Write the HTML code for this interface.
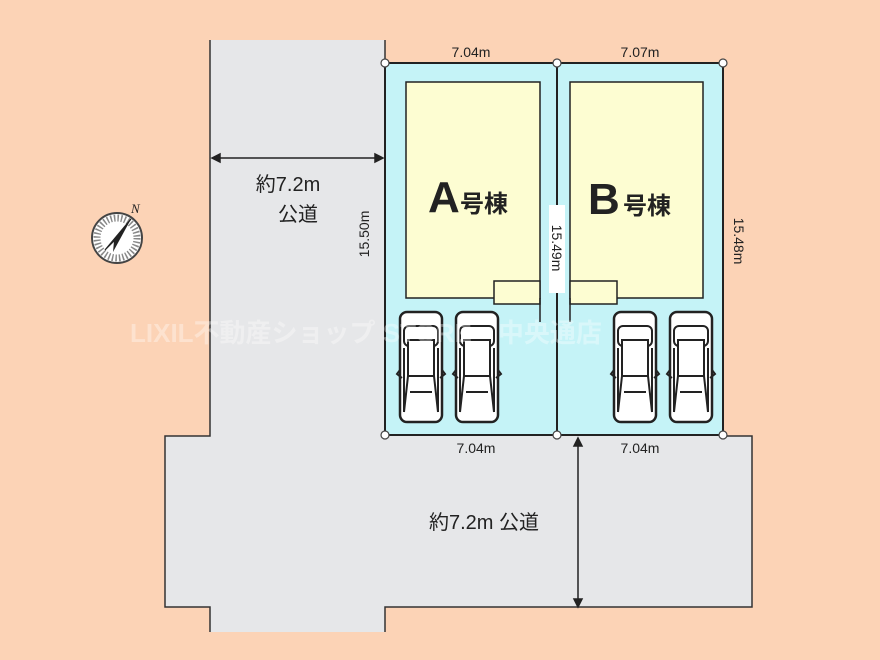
<!DOCTYPE html>
<html><head><meta charset="utf-8"><style>
body{margin:0;width:880px;height:660px;background:#fcd3b6;overflow:hidden;font-family:"Liberation Sans","Noto Sans CJK JP",sans-serif}
svg{position:absolute;left:0;top:0}
</style></head><body>
<svg width="880" height="660" viewBox="0 0 880 660">
<defs>
<g id="car">
<rect x="0" y="0" width="42" height="110" rx="7" fill="#fff" stroke="#222" stroke-width="2.5"/>
<rect x="4" y="14" width="34" height="20" rx="5" fill="#fff" stroke="#222" stroke-width="2"/>
<rect x="8" y="28" width="26" height="36" fill="#fff" stroke="#222" stroke-width="2"/>
<path d="M4 36 L4 100 M38 36 L38 100 M8 64 L4 100 M34 64 L38 100 M10 80 L32 80" stroke="#222" stroke-width="2" fill="none"/>
<path d="M0 58 L-3 62 L2 66 M42 58 L45 62 L40 66" stroke="#222" stroke-width="2" fill="none"/>
</g>
</defs>
<path d="M210 40 L385 40 L385 436 L752 436 L752 607 L385 607 L385 632 L210 632 L210 607 L165 607 L165 436 L210 436 Z" fill="#e6e7e9"/>
<path d="M210 40 L210 436 L165 436 L165 607 L210 607 L210 632 M385 40 L385 63 M385 632 L385 607 L752 607 L752 436 L723 436" stroke="#333" stroke-width="1.5" fill="none"/>
<rect x="385" y="63" width="338" height="372" fill="#c5f3f7" stroke="#222" stroke-width="2"/>
<line x1="557" y1="63" x2="557" y2="435" stroke="#222" stroke-width="2"/>
<rect x="406" y="82" width="134" height="216" fill="#fdfdd2" stroke="#222" stroke-width="1.5"/>
<rect x="570" y="82" width="133" height="216" fill="#fdfdd2" stroke="#222" stroke-width="1.5"/>
<rect x="494" y="281" width="46" height="23" fill="#fdfdd2" stroke="#222" stroke-width="1.5"/>
<rect x="570" y="281" width="47" height="23" fill="#fdfdd2" stroke="#222" stroke-width="1.5"/>
<line x1="540" y1="298" x2="540" y2="322" stroke="#222" stroke-width="1.5"/>
<line x1="570" y1="298" x2="570" y2="322" stroke="#222" stroke-width="1.5"/>
<use href="#car" x="400" y="312"/><use href="#car" x="456" y="312"/>
<use href="#car" x="614" y="312"/><use href="#car" x="670" y="312"/>
<g fill="#fff" stroke="#444" stroke-width="1.2">
<circle cx="385" cy="63" r="4"/><circle cx="557" cy="63" r="4"/><circle cx="723" cy="63" r="4"/>
<circle cx="385" cy="435" r="4"/><circle cx="557" cy="435" r="4"/><circle cx="723" cy="435" r="4"/>
</g>
<g stroke="#222" stroke-width="1.5" fill="#222">
<line x1="214" y1="158" x2="381" y2="158"/>
<path d="M212 158 L220 154 L220 162 Z"/><path d="M383 158 L375 154 L375 162 Z"/>
<line x1="578" y1="440" x2="578" y2="605"/>
<path d="M578 438 L574 446 L582 446 Z"/><path d="M578 607 L574 599 L582 599 Z"/>
</g>
<rect x="549" y="205" width="16" height="88" fill="#fff"/>
<g font-size="14" fill="#222" text-anchor="middle">
<text x="471" y="57">7.04m</text><text x="640" y="57">7.07m</text>
<text x="476" y="453">7.04m</text><text x="640" y="453">7.04m</text>
<text transform="translate(369,234) rotate(-90)">15.50m</text>
<text transform="translate(552,248) rotate(90)">15.49m</text>
<text transform="translate(734,241) rotate(90)">15.48m</text>
</g>
<g font-size="20" fill="#222" text-anchor="middle">
<text x="288" y="191">約7.2m</text><text x="298" y="221">公道</text>
<text x="484" y="529">約7.2m 公道</text>
</g>
<text x="428" y="212" font-size="44" font-weight="bold" fill="#222">A</text>
<text x="460" y="212" font-size="24" font-weight="bold" fill="#222">号棟</text>
<text x="588" y="214" font-size="44" font-weight="bold" fill="#222">B</text>
<text x="623" y="214" font-size="24" font-weight="bold" fill="#222">号棟</text>
<text x="130" y="342" font-size="26" font-weight="bold" fill="#fff" fill-opacity="0.35">LIXIL不動産ショップ STORE　中央通店</text>
<g transform="translate(117,238)">
<circle r="25" fill="#fff" stroke="#444" stroke-width="2"/>
<circle r="20" fill="none" stroke="#888" stroke-width="7" stroke-dasharray="1.5 2"/>
<path d="M14 -19 L-12 12 L-3 3 Z" fill="#fff" stroke="#222" stroke-width="1.2"/>
<path d="M14 -19 L-3 3 L-4 14 Z" fill="#222"/>
<text x="14" y="-25" font-size="13" font-style="italic" font-family="Liberation Serif,serif" fill="#222">N</text>
</g>
</svg>
</body></html>
